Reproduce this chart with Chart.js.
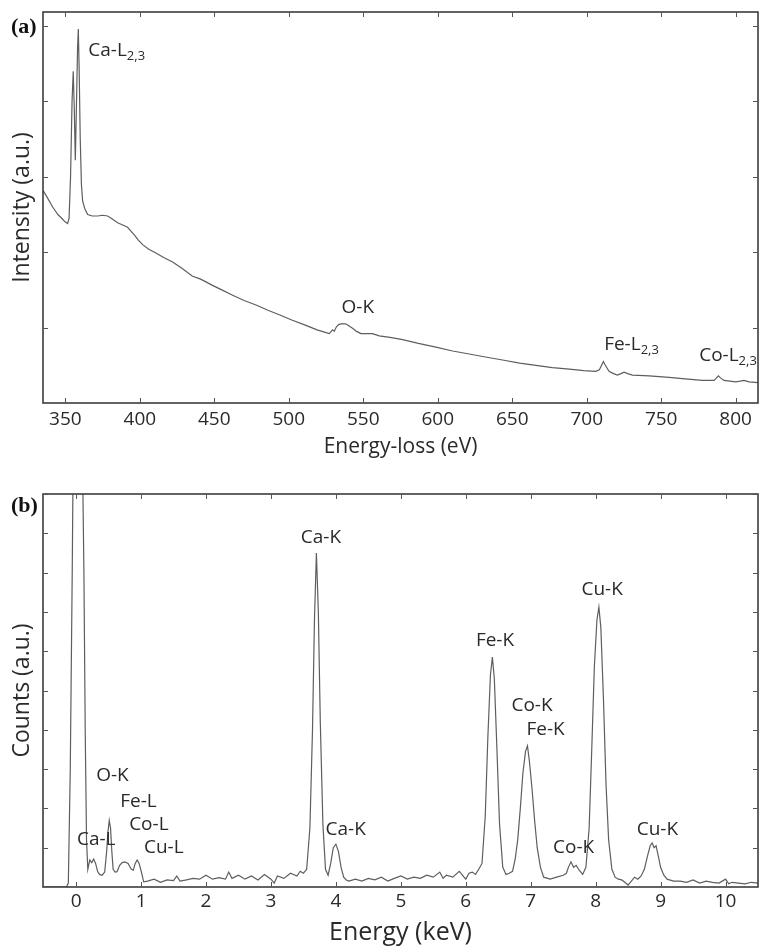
<!DOCTYPE html>
<html>
<head>
<meta charset="utf-8">
<script src="https://cdn.jsdelivr.net/npm/chart.js@4.4.0/dist/chart.umd.min.js"></script>
<style>
  html, body { margin: 0; padding: 0; background: #fff; }
  .panel { position: absolute; left: 0; }
  #panelA { top: 0; }
  #panelB { top: 460px; }
</style>
</head>
<body>
<div class="panel" id="panelA"><canvas id="chartA" width="759" height="460"></canvas></div>
<div class="panel" id="panelB"><canvas id="chartB" width="759" height="488"></canvas></div>
<script>
// (a) EELS spectrum
const eelsEnergy = [335, 338, 341.5, 345, 348, 350, 351.5, 352.5, 353.5, 354.5, 355.3, 356, 356.7, 357.5, 358.2, 358.7, 359.3, 360, 360.8, 361.6,
  363, 365, 368, 371.7, 375, 378.4, 381.5, 385.1, 388.5, 391.8, 394, 396.3, 399, 401.9, 406, 410.8, 416, 422, 428, 435.4,
  440, 442.1, 445, 448.8, 455, 462.3, 470, 478, 486, 493.6, 502, 511.5, 519, 524, 527.1, 528.5, 529.4, 530.5, 532, 533.5,
  535, 538.3, 540.5, 542.8, 545.5, 548.4, 552, 556.2, 560.7, 568, 576.4, 587, 598.8, 610, 621.1, 632, 643.5, 655, 665.9, 677,
  688.3, 698, 706.1, 708.5, 710, 711.2, 712.5, 715, 718, 720.6, 723, 725.1, 727.5, 730.7, 742, 755.3, 766, 777.7, 782, 785.5,
  787, 788.4, 790, 792.2, 796, 800, 803, 805.6, 809, 815];
const eelsIntensity = [2.82, 2.72, 2.60, 2.50, 2.44, 2.40, 2.38, 2.45, 3.0, 4.0, 4.40, 3.9, 3.22, 4.0, 4.7, 4.96, 4.4, 3.5, 2.9, 2.68,
  2.58, 2.50, 2.48, 2.48, 2.49, 2.48, 2.44, 2.39, 2.36, 2.33, 2.28, 2.23, 2.16, 2.10, 2.04, 1.99, 1.93, 1.87, 1.79, 1.68,
  1.65, 1.63, 1.60, 1.56, 1.50, 1.43, 1.36, 1.30, 1.23, 1.17, 1.10, 1.03, 0.97, 0.94, 0.92, 0.95, 0.97, 0.95, 1.01, 1.04,
  1.05, 1.05, 1.02, 0.99, 0.95, 0.92, 0.92, 0.92, 0.89, 0.87, 0.84, 0.79, 0.74, 0.69, 0.65, 0.61, 0.57, 0.53, 0.50, 0.47,
  0.45, 0.43, 0.42, 0.44, 0.50, 0.55, 0.50, 0.42, 0.39, 0.37, 0.39, 0.41, 0.39, 0.37, 0.36, 0.34, 0.32, 0.30, 0.30, 0.30,
  0.33, 0.36, 0.33, 0.30, 0.29, 0.28, 0.29, 0.30, 0.28, 0.27];
const eelsTicksX = [350, 400, 450, 500, 550, 600, 650, 700, 750, 800];
const eelsTicksY = [1, 2, 3, 4, 5];

// (b) EDS spectrum
const edsEnergy = [-0.5, -0.15, -0.12, -0.09, -0.06, -0.04, 0.0, 0.05, 0.09, 0.12, 0.14, 0.16, 0.18, 0.21, 0.24, 0.27, 0.30, 0.33, 0.36, 0.40,
  0.44, 0.47, 0.49, 0.51, 0.53, 0.55, 0.57, 0.60, 0.63, 0.67, 0.71, 0.75, 0.80, 0.85, 0.88, 0.91, 0.94, 0.97, 1.01, 1.04,
  1.1, 1.2, 1.3, 1.4, 1.5, 1.55, 1.6, 1.7, 1.8, 1.9, 2.0, 2.1, 2.2, 2.3, 2.35, 2.4, 2.5, 2.6, 2.7, 2.8,
  2.9, 3.0, 3.05, 3.1, 3.2, 3.3, 3.4, 3.45, 3.5, 3.55, 3.6, 3.64, 3.67, 3.70, 3.73, 3.76, 3.80, 3.84, 3.88, 3.92,
  3.96, 4.0, 4.04, 4.08, 4.12, 4.16, 4.2, 4.3, 4.4, 4.5, 4.6, 4.7, 4.8, 4.9, 5.0, 5.1, 5.2, 5.3, 5.4, 5.5,
  5.6, 5.65, 5.7, 5.8, 5.9, 6.0, 6.05, 6.1, 6.15, 6.2, 6.25, 6.3, 6.34, 6.38, 6.41, 6.44, 6.48, 6.52, 6.57, 6.62,
  6.67, 6.72, 6.76, 6.8, 6.84, 6.88, 6.92, 6.95, 6.98, 7.02, 7.06, 7.10, 7.15, 7.2, 7.3, 7.4, 7.5, 7.55, 7.58, 7.62,
  7.66, 7.70, 7.75, 7.8, 7.85, 7.9, 7.94, 7.98, 8.02, 8.05, 8.08, 8.12, 8.16, 8.2, 8.25, 8.3, 8.35, 8.4, 8.45, 8.5,
  8.55, 8.6, 8.65, 8.7, 8.75, 8.8, 8.84, 8.87, 8.9, 8.93, 8.97, 9.0, 9.05, 9.1, 9.2, 9.3, 9.4, 9.5, 9.6, 9.7,
  9.8, 9.9, 10.0, 10.05, 10.1, 10.2, 10.3, 10.4, 10.5];
const edsCounts = [0, 0, 0.1, 3, 8, 12, 14, 14.5, 12, 8, 4, 1.2, 0.45, 0.69, 0.62, 0.71, 0.6, 0.4, 0.32, 0.3,
  0.38, 0.9, 1.4, 1.69, 1.5, 0.9, 0.45, 0.38, 0.39, 0.55, 0.62, 0.64, 0.6, 0.45, 0.43, 0.6, 0.69, 0.6, 0.35, 0.13,
  0.15, 0.2, 0.12, 0.18, 0.16, 0.28, 0.15, 0.18, 0.22, 0.2, 0.3, 0.2, 0.24, 0.2, 0.38, 0.22, 0.3, 0.2, 0.28, 0.18,
  0.32, 0.2, 0.1, 0.28, 0.22, 0.35, 0.28, 0.4, 0.35, 0.45, 1.5, 4.0, 6.8, 8.5, 7.0, 4.2, 1.6, 0.45, 0.3, 0.6,
  1.0, 1.09, 0.9, 0.5, 0.25, 0.18, 0.15, 0.2, 0.15, 0.22, 0.18, 0.25, 0.15, 0.22, 0.28, 0.2, 0.25, 0.22, 0.3, 0.25,
  0.38, 0.22, 0.3, 0.25, 0.4, 0.2, 0.35, 0.38, 0.32, 0.45, 0.6, 1.8, 3.8, 5.4, 5.85, 5.3, 3.5, 1.6, 0.5, 0.32,
  0.35, 0.4, 0.7, 1.2, 2.0, 2.9, 3.45, 3.59, 3.2, 2.5, 1.7, 1.0, 0.5, 0.25, 0.2, 0.25, 0.3, 0.35, 0.5, 0.64,
  0.5, 0.55, 0.42, 0.32, 0.5, 1.5, 3.5, 5.6, 6.8, 7.12, 6.6, 4.8, 2.6, 1.2, 0.45, 0.25, 0.2, 0.18, 0.12, 0.05,
  0.15, 0.25, 0.2, 0.28, 0.45, 0.8, 1.05, 1.12, 1.0, 1.05, 0.75, 0.5, 0.3, 0.2, 0.15, 0.15, 0.12, 0.18, 0.1, 0.15,
  0.12, 0.1, 0.2, 0.08, 0.12, 0.1, 0.08, 0.12, 0.1];
const edsTicksX = [0, 1, 2, 3, 4, 5, 6, 7, 8, 9, 10];
const edsTicksY = [1, 2, 3, 4, 5, 6, 7, 8, 9, 10];

// peak labels (text, sub, x, y in data units)
const eelsNotes = [
  ["Ca-L", "2,3", 365.4, 4.68, "left"],
  ["O-K", "", 546.3, 1.26, "center"],
  ["Fe-L", "2,3", 711.7, 0.78, "left"],
  ["Co-L", "2,3", 775.5, 0.63, "left"],
];
const edsNotes = [
  ["Ca-K", "", 3.77, 8.88, "center"],
  ["Fe-K", "", 6.45, 6.26, "center"],
  ["Cu-K", "", 8.10, 7.56, "center"],
  ["Co-K", "", 7.02, 4.61, "center"],
  ["Fe-K", "", 7.23, 4.0, "center"],
  ["Ca-K", "", 4.15, 1.45, "center"],
  ["Co-K", "", 7.66, 1.0, "center"],
  ["Cu-K", "", 8.95, 1.46, "center"],
  ["O-K", "", 0.56, 2.84, "center"],
  ["Fe-L", "", 0.96, 2.18, "center"],
  ["Co-L", "", 1.12, 1.59, "center"],
  ["Cu-L", "", 1.35, 1.0, "center"],
  ["Ca-L", "", 0.31, 1.21, "center"],
];

const FONT = "'Open Sans', sans-serif";
const TEXT = "#2a2a2a";

// box around the plot with inward ticks on all four sides
const framePlugin = {
  id: "frame",
  afterDatasetsDraw(chart) {
    const ctx = chart.ctx;
    const a = chart.chartArea;
    const sx = chart.scales.x, sy = chart.scales.y;
    const t = 5;
    ctx.save();
    ctx.strokeStyle = "#3c3c3c";
    ctx.lineWidth = 1.6;
    ctx.strokeRect(a.left, a.top, a.right - a.left, a.bottom - a.top);
    ctx.lineWidth = 1;
    ctx.strokeStyle = "#555";
    ctx.beginPath();
    for (const tk of sx.ticks) {
      const px = Math.round(sx.getPixelForValue(tk.value)) + 0.5;
      ctx.moveTo(px, a.bottom); ctx.lineTo(px, a.bottom - t);
      ctx.moveTo(px, a.top); ctx.lineTo(px, a.top + t);
    }
    for (const tk of sy.ticks) {
      const py = Math.round(sy.getPixelForValue(tk.value)) + 0.5;
      ctx.moveTo(a.left, py); ctx.lineTo(a.left + t, py);
      ctx.moveTo(a.right, py); ctx.lineTo(a.right - t, py);
    }
    ctx.stroke();
    ctx.restore();
  }
};

// panel letter and peak labels
const notesPlugin = {
  id: "notes",
  afterDraw(chart, args, opts) {
    const ctx = chart.ctx;
    const sx = chart.scales.x, sy = chart.scales.y;
    ctx.save();
    ctx.fillStyle = "#111";
    ctx.font = "bold 22px 'Liberation Serif', serif";
    ctx.textAlign = "left";
    ctx.textBaseline = "middle";
    ctx.fillText(opts.letter, 11, opts.letterY);
    ctx.fillStyle = TEXT;
    for (const [txt, sub, x, y, align] of opts.notes) {
      let px = sx.getPixelForValue(x);
      const py = sy.getPixelForValue(y);
      ctx.font = "19px " + FONT;
      const w = ctx.measureText(txt).width;
      ctx.font = "13px " + FONT;
      const ws = sub ? ctx.measureText(sub).width : 0;
      if (align === "center") px -= (w + ws) / 2;
      ctx.textAlign = "left";
      ctx.font = "19px " + FONT;
      ctx.fillText(txt, px, py);
      if (sub) {
        ctx.font = "13px " + FONT;
        ctx.fillText(sub, px + w, py + 6);
      }
    }
    ctx.restore();
  }
};

function xyData(xs, ys) {
  return xs.map((x, i) => ({ x: x, y: ys[i] }));
}

function makeChart(id, cfg) {
  const ctx = document.getElementById(id).getContext("2d");
  return new Chart(ctx, {
    type: "line",
    data: {
      datasets: [{
        data: xyData(cfg.xs, cfg.ys),
        borderColor: "#5e5e5e",
        borderWidth: 1.2,
        pointRadius: 0,
        tension: 0,
        fill: false,
      }],
    },
    options: {
      responsive: false,
      animation: false,
      parsing: false,
      layout: { padding: { top: cfg.padTop, right: 1, left: 0, bottom: 0 } },
      plugins: {
        legend: { display: false },
        tooltip: { enabled: false },
        notes: { letter: cfg.letter, letterY: cfg.letterY, notes: cfg.notes },
      },
      scales: {
        x: {
          type: "linear",
          min: cfg.xMin,
          max: cfg.xMax,
          afterBuildTicks: (s) => { s.ticks = cfg.ticksX.map((v) => ({ value: v })); },
          afterFit: (s) => { s.height = cfg.xHeight; },
          grid: { display: false, drawTicks: false },
          border: { display: false },
          ticks: {
            color: TEXT,
            font: { family: FONT, size: 19 },
            padding: cfg.tickPad,
            maxRotation: 0,
            autoSkip: false,
          },
          title: {
            display: true,
            text: cfg.xTitle,
            color: TEXT,
            font: { family: FONT, size: cfg.xTitleSize },
            padding: { top: 0, bottom: 0 },
          },
        },
        y: {
          type: "linear",
          min: 0,
          max: cfg.yMax,
          afterBuildTicks: (s) => { s.ticks = cfg.ticksY.map((v) => ({ value: v })); },
          afterFit: (s) => { s.width = 43; },
          grid: { display: false, drawTicks: false },
          border: { display: false },
          ticks: { display: false },
          title: {
            display: true,
            text: cfg.yTitle,
            color: TEXT,
            font: { family: FONT, size: 23 },
            padding: { top: 9, bottom: 0 },
          },
        },
      },
    },
    plugins: [framePlugin, notesPlugin],
  });
}

makeChart("chartA", {
  xs: eelsEnergy, ys: eelsIntensity,
  xMin: 335, xMax: 815, yMax: 5.186,
  ticksX: eelsTicksX, ticksY: eelsTicksY,
  padTop: 12, xHeight: 57, tickPad: 5,
  xTitle: "Energy-loss (eV)", xTitleSize: 21,
  yTitle: "Intensity (a.u.)",
  letter: "(a)", letterY: 27,
  notes: eelsNotes,
});

makeChart("chartB", {
  xs: edsEnergy, ys: edsCounts,
  xMin: -0.51, xMax: 10.5, yMax: 10,
  ticksX: edsTicksX, ticksY: edsTicksY,
  padTop: 34, xHeight: 61, tickPad: 3,
  xTitle: "Energy (keV)", xTitleSize: 25,
  yTitle: "Counts (a.u.)",
  letter: "(b)", letterY: 46,
  notes: edsNotes,
});
</script>
</body>
</html>
